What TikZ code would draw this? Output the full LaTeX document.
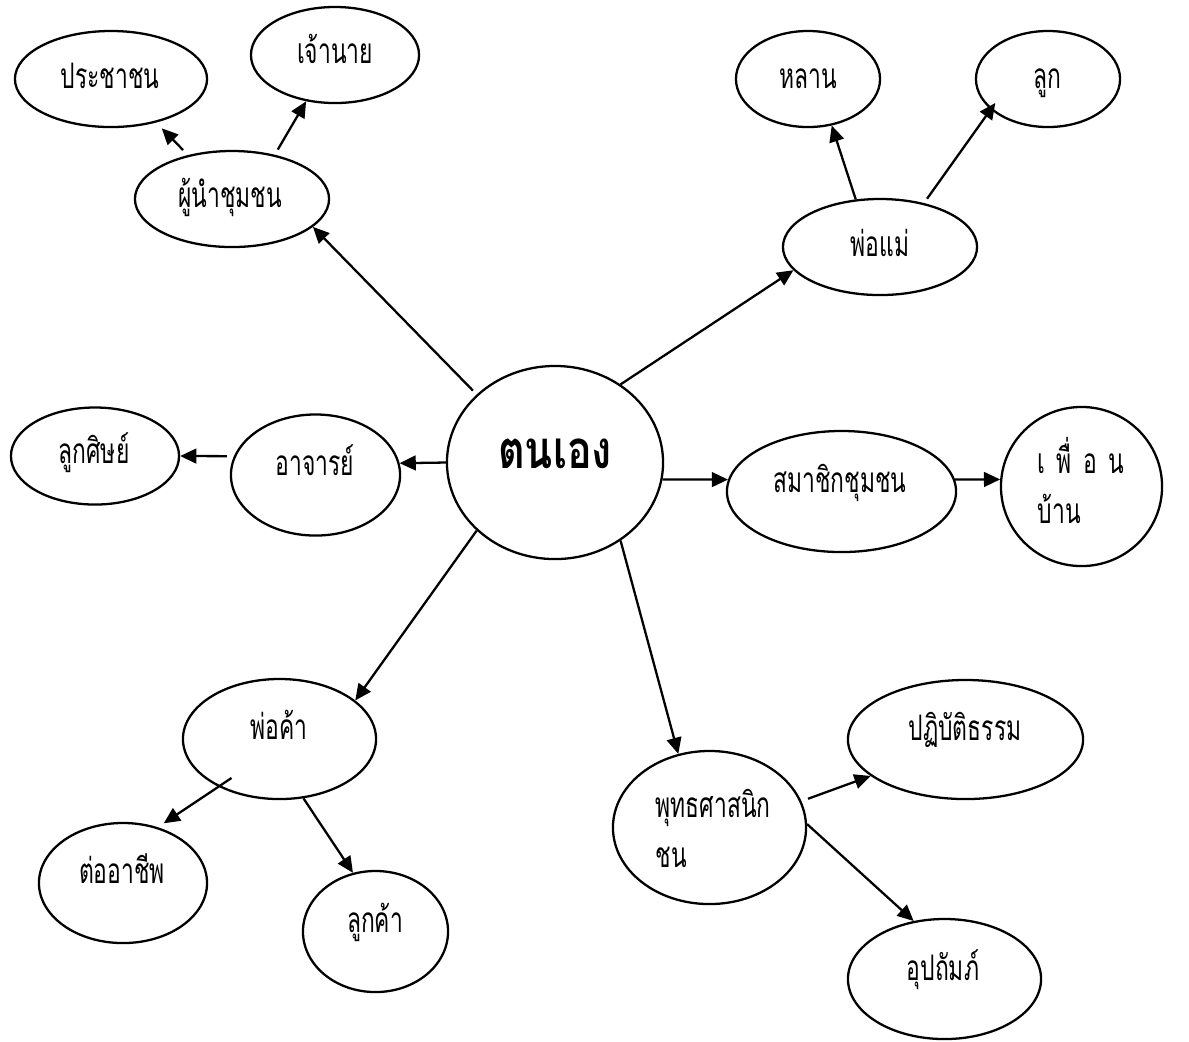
\documentclass[tikz,border=0pt]{standalone}
\usepackage{fontspec}
\newfontfamily\thai[Script=Thai,FakeStretch=0.65]{Loma}
\newfontfamily\thaihead[Script=Thai,FakeStretch=0.78]{Loma}
\usetikzlibrary{shapes.geometric,arrows.meta}

\begin{document}
\begin{tikzpicture}
    [ x = 0.01cm, y = -0.01cm
    , bubble/.style =
      { draw, ellipse, line width=0.65pt, inner sep=0pt }
    , word/.style =
      { anchor=base, inner sep=0pt, font=\thai\fontsize{10pt}{12pt}\selectfont }
    , link/.style =
      { -{Triangle[length=4.6pt,width=4.2pt]}, line width=0.65pt }
    ]
    \useasboundingbox (0,0) rectangle (1189,1041);

    \node [bubble, minimum width=2.16cm, minimum height=1.93cm] (self) at (555,462.5) {};
    \node [bubble, minimum width=1.92cm, minimum height=0.96cm] (people) at (111,79) {};
    \node [bubble, minimum width=1.68cm, minimum height=0.96cm] (boss) at (335,55) {};
    \node [bubble, minimum width=1.94cm, minimum height=0.96cm] (leader) at (232,199) {};
    \node [bubble, minimum width=1.44cm, minimum height=0.96cm] (niece) at (808,79) {};
    \node [bubble, minimum width=1.44cm, minimum height=0.96cm] (child) at (1048,79) {};
    \node [bubble, minimum width=1.94cm, minimum height=0.96cm] (parents) at (880,247) {};
    \node [bubble, minimum width=1.68cm, minimum height=0.97cm] (student) at (95,456) {};
    \node [bubble, minimum width=1.69cm, minimum height=1.21cm] (teacher) at (315.5,475) {};
    \node [bubble, minimum width=2.29cm, minimum height=1.21cm] (members) at (841.5,491.5) {};
    \node [bubble, minimum width=1.61cm, minimum height=1.59cm] (neighbor) at (1081.5,486.5) {};
    \node [bubble, minimum width=1.93cm, minimum height=1.20cm] (merchant) at (279.5,739) {};
    \node [bubble, minimum width=1.68cm, minimum height=1.20cm] (career) at (123,883) {};
    \node [bubble, minimum width=1.45cm, minimum height=1.21cm] (customer) at (375.5,931.5) {};
    \node [bubble, minimum width=1.93cm, minimum height=1.53cm] (buddhist) at (709.5,827.5) {};
    \node [bubble, minimum width=2.35cm, minimum height=1.19cm] (practice) at (965.5,739.5) {};
    \node [bubble, minimum width=1.93cm, minimum height=1.20cm] (patron) at (944.5,979) {};

    % texts
    \node [word, font=\thaihead\bfseries\fontsize{15pt}{17pt}\selectfont] (self-t) at (555,468) {ตนเอง};
    \node [word] (people-t) at (110,88) {ประชาชน};
    \node [word] (boss-t) at (335,63) {เจ้านาย};
    \node [word] (leader-t) at (230,207) {ผู้นำชุมชน};
    \node [word] (niece-t) at (808,88) {หลาน};
    \node [word] (child-t) at (1047,88) {ลูก};
    \node [word] (parents-t) at (880,256) {พ่อแม่};
    \node [word] (student-t) at (94,463) {ลูกศิษย์};
    \node [word] (teacher-t) at (315,475) {อาจารย์};
    \node [word] (members-t) at (840,492) {สมาชิกชุมชน};
    \node [word, anchor=base west] (neighbor-t1) at (1037,473) {\makebox[0.86cm][s]{เ พื่ อ น}};
    \node [word, anchor=base west] (neighbor-t2) at (1037,523) {บ้าน};
    \node [word] (merchant-t) at (279,739) {พ่อค้า};
    \node [word] (career-t) at (122,883) {ต่ออาชีพ};
    \node [word] (customer-t) at (375,932) {ลูกค้า};
    \node [word, anchor=base west] (buddhist-t1) at (655,817) {พุทธศาสนิก};
    \node [word, anchor=base west] (buddhist-t2) at (655,867) {ชน};
    \node [word] (practice-t) at (965,740) {ปฏิบัติธรรม};
    \node [word] (patron-t) at (943,980) {อุปถัมภ์};

    \draw [link, shorten <=1.5pt] (self.139) -- (leader.-19);
    \draw [link, shorten <=2pt, shorten >=2.3pt] (leader.135) -- (people.-44);
    \draw [link, shorten <=1.7pt] (leader.46) -- (boss.-122);
    \draw [link] (self.50) -- (parents.-165);
    \draw [link] (parents.117) -- (niece.-63);
    \draw [link, shorten <=1.5pt, shorten >=-2.3pt] (parents.45) -- (child.-152);
    \draw [link] (self.180) -- (teacher.8);
    \draw [link, shorten <=2pt] (teacher.167) -- (student.0);
    \draw [link] (self.-9) -- (members.174);
    \draw [link] (members.6) -- (neighbor.175);
    \draw [link] (self.-139) -- (merchant.27);
    \draw [link, shorten <=-4.5pt, shorten >=2pt] (merchant.-142) -- (career.58);
    \draw [link] (merchant.-68) -- (customer.111);
    \draw [link] (self.-50) -- (buddhist.113);
    \draw [link, shorten <=2pt] (buddhist.16) -- (practice.-159);
    \draw [link] (buddhist.2) -- (patron.118);
\end{tikzpicture}
\end{document}
